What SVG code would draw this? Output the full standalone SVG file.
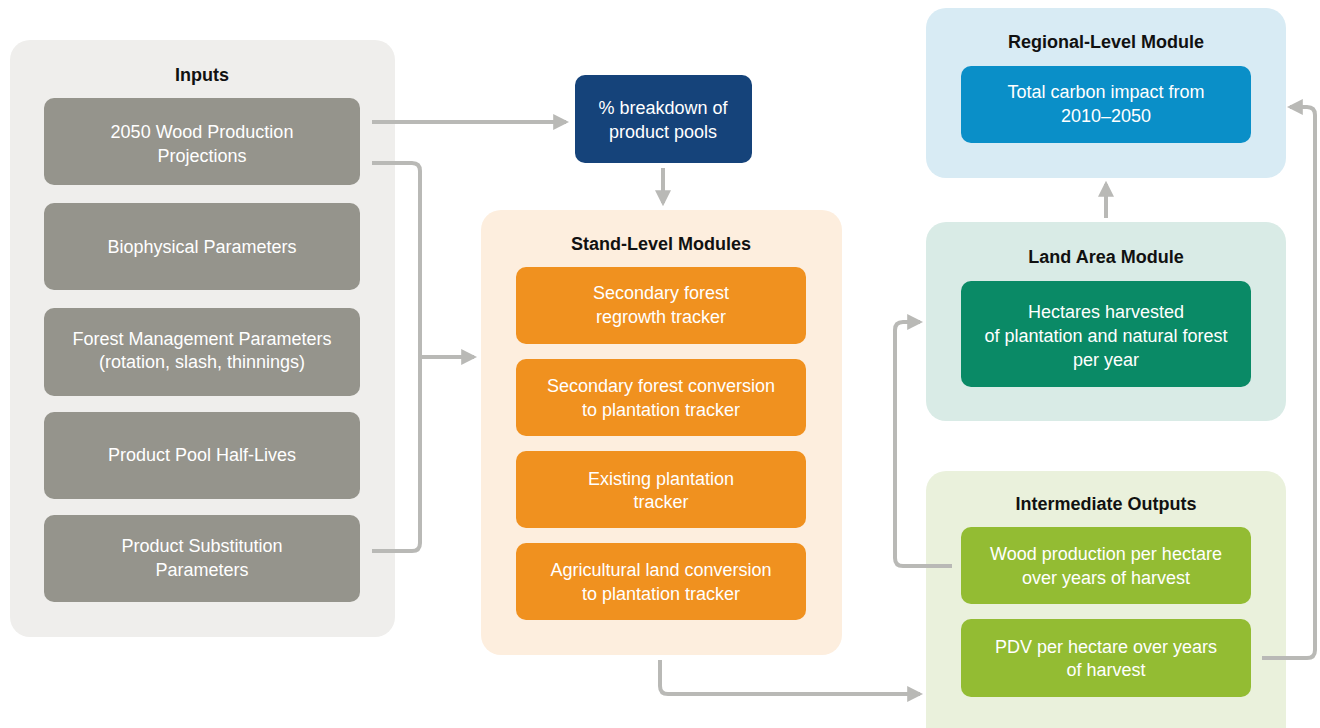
<svg xmlns="http://www.w3.org/2000/svg" width="1320" height="728" viewBox="0 0 1320 728">
  <style>
    text { font-family: "Liberation Sans", Arial, sans-serif; text-anchor: middle; }
    .title { font-size: 18px; font-weight: bold; fill: #111; }
    .lbl { font-size: 18px; fill: #fff; }
    .panel { stroke: none; }
    .conn { fill: none; stroke: #b9b9b6; stroke-width: 4; stroke-linejoin: round; }
  </style>
  <defs>
    <marker id="arrow" viewBox="0 0 10 10" refX="8" refY="5" markerWidth="4" markerHeight="4" orient="auto" markerUnits="strokeWidth">
      <path d="M0,0 L10,5 L0,10 Z" fill="#b9b9b6"/>
    </marker>
  </defs>
  <rect width="1320" height="728" fill="#fff"/>

  <!-- Inputs -->
  <g id="inputs">
    <rect class="panel" x="10" y="40" width="385" height="597" rx="20" fill="#efeeec"/>
    <text class="title" x="202" y="81">Inputs</text>
    <rect x="44" y="98" width="316" height="87" rx="10" fill="#95948c"/>
    <text class="lbl" x="202" y="138">2050 Wood Production</text>
    <text class="lbl" x="202" y="162">Projections</text>
    <rect x="44" y="203" width="316" height="87" rx="10" fill="#95948c"/>
    <text class="lbl" x="202" y="253">Biophysical Parameters</text>
    <rect x="44" y="308" width="316" height="88" rx="10" fill="#95948c"/>
    <text class="lbl" x="202" y="345">Forest Management Parameters</text>
    <text class="lbl" x="202" y="368">(rotation, slash, thinnings)</text>
    <rect x="44" y="412" width="316" height="87" rx="10" fill="#95948c"/>
    <text class="lbl" x="202" y="461">Product Pool Half-Lives</text>
    <rect x="44" y="515" width="316" height="87" rx="10" fill="#95948c"/>
    <text class="lbl" x="202" y="552">Product Substitution</text>
    <text class="lbl" x="202" y="576">Parameters</text>
  </g>

  <!-- Product pool breakdown -->
  <g id="breakdown">
    <rect x="575" y="75" width="177" height="88" rx="10" fill="#15437a"/>
    <text class="lbl" x="663" y="114">% breakdown of</text>
    <text class="lbl" x="663" y="138">product pools</text>
  </g>

  <!-- Stand-Level Modules -->
  <g id="stand-level">
    <rect class="panel" x="481" y="210" width="361" height="445" rx="20" fill="#fdeede"/>
    <text class="title" x="661" y="250">Stand-Level Modules</text>
    <rect x="516" y="267" width="290" height="77" rx="10" fill="#f0911f"/>
    <text class="lbl" x="661" y="299">Secondary forest</text>
    <text class="lbl" x="661" y="323">regrowth tracker</text>
    <rect x="516" y="359" width="290" height="77" rx="10" fill="#f0911f"/>
    <text class="lbl" x="661" y="392">Secondary forest conversion</text>
    <text class="lbl" x="661" y="416">to plantation tracker</text>
    <rect x="516" y="451" width="290" height="77" rx="10" fill="#f0911f"/>
    <text class="lbl" x="661" y="485">Existing plantation</text>
    <text class="lbl" x="661" y="508">tracker</text>
    <rect x="516" y="543" width="290" height="77" rx="10" fill="#f0911f"/>
    <text class="lbl" x="661" y="576">Agricultural land conversion</text>
    <text class="lbl" x="661" y="600">to plantation tracker</text>
  </g>

  <!-- Regional-Level Module -->
  <g id="regional-level">
    <rect class="panel" x="926" y="8" width="360" height="170" rx="20" fill="#d8ebf4"/>
    <text class="title" x="1106" y="48">Regional-Level Module</text>
    <rect x="961" y="66" width="290" height="77" rx="10" fill="#0a8fc8"/>
    <text class="lbl" x="1106" y="98">Total carbon impact from</text>
    <text class="lbl" x="1106" y="122">2010–2050</text>
  </g>

  <!-- Land Area Module -->
  <g id="land-area">
    <rect class="panel" x="926" y="222" width="360" height="199" rx="20" fill="#d9ebe6"/>
    <text class="title" x="1106" y="263">Land Area Module</text>
    <rect x="961" y="281" width="290" height="106" rx="10" fill="#0a8a66"/>
    <text class="lbl" x="1106" y="318">Hectares harvested</text>
    <text class="lbl" x="1106" y="342">of plantation and natural forest</text>
    <text class="lbl" x="1106" y="366">per year</text>
  </g>

  <!-- Intermediate Outputs -->
  <g id="intermediate-outputs">
    <rect class="panel" x="926" y="471" width="360" height="280" rx="20" fill="#eaf1dc"/>
    <text class="title" x="1106" y="510">Intermediate Outputs</text>
    <rect x="961" y="527" width="290" height="77" rx="10" fill="#93bc33"/>
    <text class="lbl" x="1106" y="560">Wood production per hectare</text>
    <text class="lbl" x="1106" y="584">over years of harvest</text>
    <rect x="961" y="619" width="290" height="78" rx="10" fill="#93bc33"/>
    <text class="lbl" x="1106" y="653">PDV per hectare over years</text>
    <text class="lbl" x="1106" y="676">of harvest</text>
  </g>

  <!-- Connectors -->
  <g id="connectors">
    <path class="conn" d="M372,122 H566" marker-end="url(#arrow)"/>
    <path class="conn" d="M372,163 H412 Q420,163 420,171 V543 Q420,551 412,551 H372"/>
    <path class="conn" d="M420,357 H474" marker-end="url(#arrow)"/>
    <path class="conn" d="M663,168 V203" marker-end="url(#arrow)"/>
    <path class="conn" d="M660,660 V686 Q660,694 668,694 H920" marker-end="url(#arrow)"/>
    <path class="conn" d="M952,566 H903 Q895,566 895,558 V330 Q895,322 903,322 H920" marker-end="url(#arrow)"/>
    <path class="conn" d="M1262,658 H1307 Q1315,658 1315,650 V115 Q1315,107 1307,107 H1290" marker-end="url(#arrow)"/>
    <path class="conn" d="M1106,218 V184" marker-end="url(#arrow)"/>
  </g>
</svg>
